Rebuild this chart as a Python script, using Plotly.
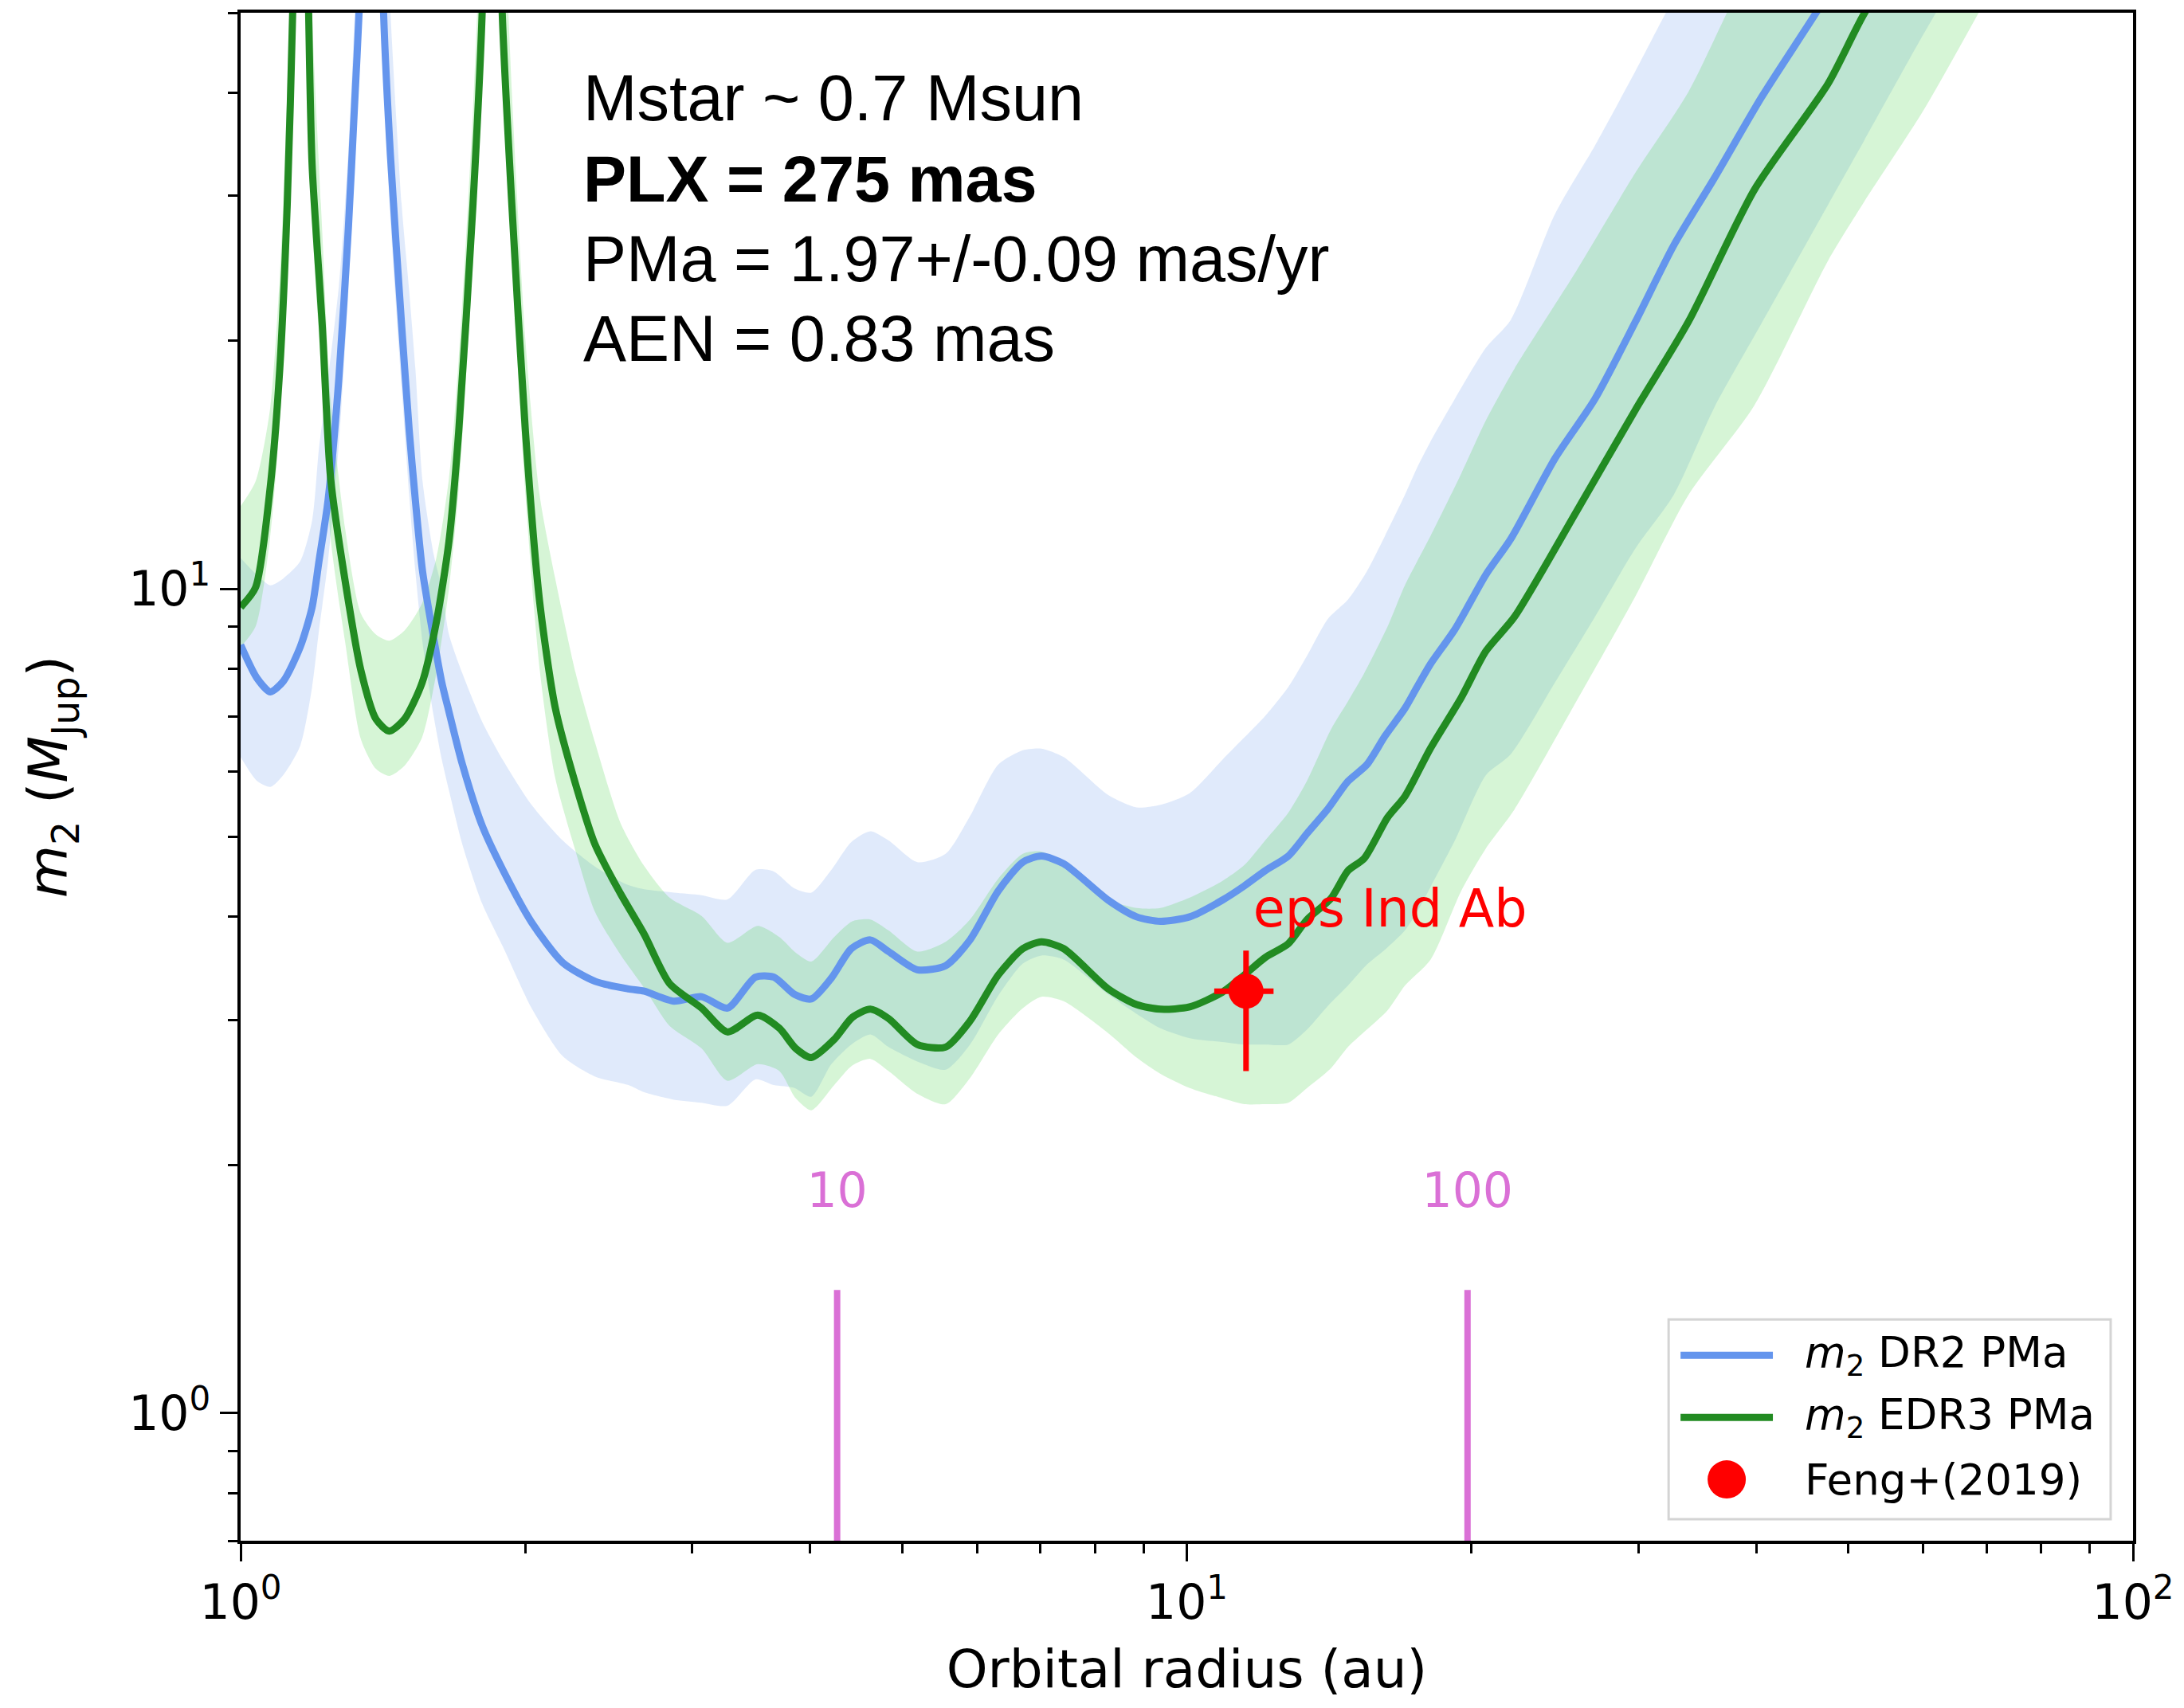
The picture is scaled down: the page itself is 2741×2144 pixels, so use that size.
import plotly.graph_objects as go

# ---------------- data ----------------
# DR2 PMa sensitivity curve: orbital radius (au), m2 (MJup), lower / upper envelope
dr2_a = [1.00, 1.04, 1.075, 1.11, 1.156, 1.19, 1.21, 1.237, 1.27, 1.30,
         1.32, 1.334, 1.35, 1.375, 1.40, 1.416, 1.44, 1.48, 1.507, 1.53,
         1.557, 1.60, 1.632, 1.66, 1.715, 1.80, 1.893, 2.03, 2.19, 2.37,
         2.57, 2.67, 2.87, 3.07, 3.27, 3.50, 3.66, 3.85, 4.01, 4.21,
         4.42, 4.63, 4.84, 5.19, 5.56, 5.90, 6.32, 6.71, 7.02, 7.41,
         8.26, 8.85, 9.38, 10.07, 10.9, 11.5, 12.1, 12.8, 13.4, 14.1,
         14.8, 15.5, 16.2, 17.0, 17.5, 18.1, 19.2, 20.7, 22.0, 24.5,
         27.0, 29.8, 32.7, 36.1, 40.5, 46.2, 52.0, 60.0, 65.0]
dr2_m = [8.55, 7.80, 7.50, 7.73, 8.50, 9.50, 10.8, 12.8, 18.0, 27.5,
         39.0, 50.0, 80.0, 300, 90.0, 50.0, 33.5, 20.8, 15.6, 12.8,
         10.5, 8.70, 7.69, 7.10, 6.13, 5.16, 4.56, 3.94, 3.52, 3.34,
         3.27, 3.25, 3.16, 3.20, 3.10, 3.38, 3.38, 3.22, 3.18, 3.37,
         3.66, 3.75, 3.63, 3.45, 3.49, 3.75, 4.30, 4.66, 4.74, 4.64,
         4.19, 4.00, 3.95, 4.00, 4.19, 4.36, 4.55, 4.74, 5.05, 5.41,
         5.84, 6.12, 6.63, 7.16, 7.59, 8.11, 8.93, 10.4, 11.5, 14.4,
         17.0, 21.1, 26.1, 31.5, 39.5, 49.9, 62.0, 80.0, 92.0]
dr2_lo = [6.25, 5.85, 5.75, 5.95, 6.45, 7.60, 8.90, 10.8, 15.0, 23.0,
          33.0, 42.0, 65.0, 220, 70.0, 42.0, 28.0, 17.5, 13.0, 10.5,
          8.60, 7.00, 6.20, 5.70, 4.90, 4.15, 3.68, 3.10, 2.71, 2.56,
          2.50, 2.45, 2.40, 2.38, 2.36, 2.54, 2.50, 2.48, 2.42, 2.65,
          2.80, 2.88, 2.78, 2.67, 2.61, 2.80, 3.21, 3.51, 3.59, 3.55,
          3.22, 3.05, 2.93, 2.85, 2.82, 2.80, 2.80, 2.80, 2.92, 3.12,
          3.30, 3.50, 3.65, 3.85, 4.05, 4.35, 4.95, 5.94, 6.30, 7.70,
          9.25, 11.2, 13.0, 16.6, 21.0, 27.5, 35.0, 47.0, 55.0]
dr2_hi = [10.9, 10.4, 10.1, 10.3, 10.8, 12.1, 14.8, 18.0, 23.3, 34.0,
          50.0, 65.0, 130, 600, 180, 80.0, 50.0, 29.2, 23.0, 18.5,
          13.5, 11.0, 10.0, 8.81, 7.90, 6.90, 6.20, 5.47, 4.95, 4.60,
          4.37, 4.32, 4.28, 4.25, 4.20, 4.56, 4.54, 4.33, 4.28, 4.56,
          4.93, 5.08, 4.95, 4.66, 4.77, 5.30, 6.12, 6.37, 6.40, 6.25,
          5.62, 5.43, 5.47, 5.65, 6.20, 6.60, 7.01, 7.60, 8.30, 9.20,
          9.70, 10.5, 11.6, 13.0, 14.0, 15.1, 17.0, 19.6, 21.2, 28.5,
          34.5, 42.5, 52.0, 62.0, 78.0, 100, 125, 160, 185]

# EDR3 PMa sensitivity curve
edr3_a = [1.00, 1.037, 1.074, 1.10, 1.12, 1.135, 1.15, 1.158, 1.166, 1.18,
          1.19, 1.22, 1.245, 1.29, 1.34, 1.39, 1.436, 1.49, 1.555, 1.61,
          1.66, 1.70, 1.76, 1.80, 1.83, 1.845, 1.86, 1.89, 1.935, 2.00,
          2.07, 2.15, 2.26, 2.37, 2.52, 2.67, 2.84, 3.07, 3.27, 3.52,
          3.71, 3.86, 4.01, 4.24, 4.43, 4.63, 4.84, 5.19, 5.56, 5.90,
          6.32, 6.71, 7.02, 7.41, 8.26, 8.85, 9.38, 10.07, 10.9, 11.5,
          12.1, 12.8, 13.4, 14.2, 14.8, 15.4, 16.3, 17.0, 18.1, 19.5,
          20.7, 22.2, 25.8, 29.8, 33.9, 39.8, 47.6, 52.0, 60.0, 70.0]
edr3_m = [9.50, 10.04, 13.2, 18.5, 29.2, 50.0, 120, 300, 120, 50.0,
          32.7, 20.8, 13.6, 10.2, 7.96, 6.95, 6.72, 6.95, 7.69, 9.11,
          11.4, 15.5, 29.2, 50.0, 120, 300, 120, 50.0, 29.2, 15.5,
          9.66, 7.18, 5.79, 4.89, 4.27, 3.81, 3.32, 3.10, 2.90, 3.04,
          2.93, 2.77, 2.70, 2.84, 3.02, 3.09, 3.01, 2.80, 2.78, 2.99,
          3.40, 3.66, 3.73, 3.66, 3.27, 3.13, 3.09, 3.11, 3.24, 3.40,
          3.57, 3.71, 3.97, 4.21, 4.55, 4.71, 5.28, 5.60, 6.41, 7.38,
          8.40, 9.25, 12.4, 16.5, 21.1, 30.5, 41.0, 49.9, 64.0, 85.0]
edr3_lo = [8.50, 9.00, 11.5, 16.0, 25.0, 42.0, 90.0, 200, 90.0, 42.0,
           28.0, 17.5, 11.5, 8.60, 6.57, 6.05, 5.93, 6.10, 6.60, 7.90,
           10.0, 13.2, 25.0, 42.0, 90.0, 200, 90.0, 42.0, 25.0, 13.0,
           8.00, 5.90, 4.80, 4.05, 3.60, 3.28, 2.95, 2.77, 2.53, 2.65,
           2.60, 2.41, 2.33, 2.50, 2.64, 2.69, 2.60, 2.44, 2.37, 2.55,
           2.88, 3.10, 3.20, 3.16, 2.89, 2.70, 2.58, 2.48, 2.41, 2.37,
           2.37, 2.38, 2.48, 2.62, 2.78, 2.90, 3.08, 3.30, 3.55, 4.30,
           4.84, 5.40, 7.30, 9.80, 13.0, 16.7, 25.0, 29.5, 38.0, 52.0]
edr3_hi = [12.6, 13.5, 16.5, 24.0, 40.0, 75.0, 250, 600, 250, 80.0,
           50.0, 27.0, 17.0, 11.8, 9.33, 8.80, 8.65, 8.90, 9.60, 10.9,
           13.6, 19.0, 38.0, 75.0, 250, 600, 250, 80.0, 40.0, 20.0,
           13.0, 10.3, 7.90, 6.50, 5.20, 4.61, 4.22, 4.01, 3.72, 3.90,
           3.78, 3.62, 3.53, 3.78, 3.95, 3.97, 3.85, 3.63, 3.73, 3.97,
           4.45, 4.77, 4.80, 4.65, 4.20, 4.10, 4.10, 4.22, 4.42, 4.62,
           4.95, 5.35, 5.85, 6.75, 7.30, 7.90, 9.00, 10.1, 11.6, 13.8,
           16.0, 18.5, 24.3, 32.0, 40.1, 58.0, 75.0, 85.0, 105, 135]

# Feng+(2019) eps Ind Ab
feng_a = [11.55]
feng_a_plus = [0.80]
feng_a_minus = [0.86]
feng_m = [3.25]
feng_m_plus = [0.39]
feng_m_minus = [0.65]
planet_label = ["eps Ind Ab"]
planet_label_a = [11.75]
planet_label_m = [4.04]

# orbital-period markers (years) at their orbital radius
period_labels = ["10", "100"]
period_a = [4.27, 19.8]
period_line_m = [0.7, 1.41]
period_label_m = 1.84

info_lines = ["Mstar ~ 0.7 Msun", "<b>PLX = 275 mas</b>",
              "PMa = 1.97+/-0.09 mas/yr", "AEN = 0.83 mas"]

legend_labels = ["<i>m</i><sub>2</sub> DR2 PMa",
                 "<i>m</i><sub>2</sub> EDR3 PMa",
                 "Feng+(2019)"]

# ---------------- figure ----------------
BLUE = "#6495ED"
GREEN = "#228B22"
ORCHID = "#DA70D6"
SM = 0.7

fig = go.Figure()

fig.add_trace(go.Scatter(x=dr2_a, y=dr2_lo, mode="lines",
                         line=dict(width=0, shape="spline", smoothing=SM),
                         showlegend=False, hoverinfo="skip"))
fig.add_trace(go.Scatter(x=dr2_a, y=dr2_hi, mode="lines",
                         line=dict(width=0, shape="spline", smoothing=SM),
                         fill="tonexty", fillcolor="rgba(100,149,237,0.2)",
                         showlegend=False, hoverinfo="skip"))
fig.add_trace(go.Scatter(x=edr3_a, y=edr3_lo, mode="lines",
                         line=dict(width=0, shape="spline", smoothing=SM),
                         showlegend=False, hoverinfo="skip"))
fig.add_trace(go.Scatter(x=edr3_a, y=edr3_hi, mode="lines",
                         line=dict(width=0, shape="spline", smoothing=SM),
                         fill="tonexty", fillcolor="rgba(50,205,50,0.2)",
                         showlegend=False, hoverinfo="skip"))

fig.add_trace(go.Scatter(x=dr2_a, y=dr2_m, mode="lines",
                         line=dict(color=BLUE, width=9, shape="spline", smoothing=SM),
                         name=legend_labels[0], showlegend=False))
fig.add_trace(go.Scatter(x=edr3_a, y=edr3_m, mode="lines",
                         line=dict(color=GREEN, width=9, shape="spline", smoothing=SM),
                         name=legend_labels[1], showlegend=False))

for a in period_a:
    fig.add_trace(go.Scatter(x=[a, a], y=period_line_m, mode="lines",
                             line=dict(color=ORCHID, width=8),
                             showlegend=False, hoverinfo="skip"))
fig.add_trace(go.Scatter(x=period_a, y=[period_label_m] * len(period_a),
                         mode="text", text=period_labels,
                         textposition="middle center",
                         textfont=dict(family="DejaVu Sans", size=60, color=ORCHID),
                         showlegend=False, hoverinfo="skip"))

fig.add_trace(go.Scatter(x=planet_label_a, y=planet_label_m, mode="text",
                         text=planet_label, textposition="middle right",
                         textfont=dict(family="DejaVu Sans", size=65, color="red"),
                         showlegend=False, hoverinfo="skip"))

fig.add_trace(go.Scatter(
    x=feng_a, y=feng_m, mode="markers", name=legend_labels[2], showlegend=False,
    marker=dict(color="red", size=44, line=dict(width=0)),
    error_x=dict(type="data", symmetric=False, array=feng_a_plus,
                 arrayminus=feng_a_minus, color="red", thickness=7, width=0),
    error_y=dict(type="data", symmetric=False, array=feng_m_plus,
                 arrayminus=feng_m_minus, color="red", thickness=7, width=0),
))

# info text block
line_y = [0.944, 0.891, 0.839, 0.787]
for txt, yy in zip(info_lines, line_y):
    fig.add_annotation(text=txt, xref="paper", yref="paper", x=0.180, y=yy,
                       xanchor="left", yanchor="middle", showarrow=False,
                       font=dict(family="Liberation Sans", size=81, color="black"))

# legend box (matplotlib-like), drawn in paper coordinates
fig.add_shape(type="rect", xref="paper", yref="paper",
              x0=0.7546, x1=0.9882, y0=0.0141, y1=0.1448,
              line=dict(color="#d4d4d4", width=3), fillcolor="white", layer="above")
leg_y = [0.1214, 0.0807, 0.0401]
for yy, col in zip(leg_y[:2], [BLUE, GREEN]):
    fig.add_shape(type="line", xref="paper", yref="paper",
                  x0=0.7609, x1=0.8097, y0=yy, y1=yy,
                  line=dict(color=col, width=9), layer="above")
fig.add_shape(type="circle", xref="paper", yref="paper",
              xsizemode="pixel", ysizemode="pixel",
              xanchor=0.7853, yanchor=leg_y[2], x0=-24, x1=24, y0=-24, y1=24,
              line=dict(width=0), fillcolor="red", layer="above")
for txt, yy in zip(legend_labels, leg_y):
    fig.add_annotation(text=txt, xref="paper", yref="paper", x=0.8256, y=yy,
                       xanchor="left", yanchor="middle", showarrow=False,
                       font=dict(family="DejaVu Sans", size=53, color="black"))

fig.update_layout(
    width=2741, height=2144,
    margin=dict(l=302, r=59, t=14, b=210),
    paper_bgcolor="white", plot_bgcolor="white",
    font=dict(family="DejaVu Sans", size=58, color="black"),
    showlegend=False,
    xaxis=dict(
        type="log", range=[0, 2],
        showline=True, linecolor="black", linewidth=3.5, mirror=True,
        showgrid=False, zeroline=False,
        ticks="outside", ticklen=22, tickwidth=3, tickcolor="black",
        tickmode="array", tickvals=[1, 10, 100],
        ticktext=["10<sup>0</sup>", "10<sup>1</sup>", "10<sup>2</sup>"],
        tickfont=dict(family="DejaVu Sans", size=60),
        minor=dict(ticks="outside", ticklen=12, tickwidth=2.5, tickcolor="black",
                   tickmode="array",
                   tickvals=[2, 3, 4, 5, 6, 7, 8, 9, 20, 30, 40, 50, 60, 70, 80, 90],
                   showgrid=False),
        title=dict(text="Orbital radius (au)", standoff=28,
                   font=dict(family="DejaVu Sans", size=66)),
    ),
    yaxis=dict(
        type="log", range=[-0.1549, 1.699],
        showline=True, linecolor="black", linewidth=3.5, mirror=True,
        showgrid=False, zeroline=False,
        ticks="outside", ticklen=22, tickwidth=3, tickcolor="black",
        tickmode="array", tickvals=[1, 10],
        ticktext=["10<sup>0</sup>", "10<sup>1</sup>"],
        tickfont=dict(family="DejaVu Sans", size=60),
        minor=dict(ticks="outside", ticklen=12, tickwidth=2.5, tickcolor="black",
                   tickmode="array",
                   tickvals=[0.7, 0.8, 0.9, 2, 3, 4, 5, 6, 7, 8, 9, 20, 30, 40, 50],
                   showgrid=False),
        title=dict(text="<i>m</i><sub>2</sub> (<i>M</i><sub>Jup</sub>)", standoff=55,
                   font=dict(family="DejaVu Sans", size=68)),
    ),
)

fig.write_html("out.html")
